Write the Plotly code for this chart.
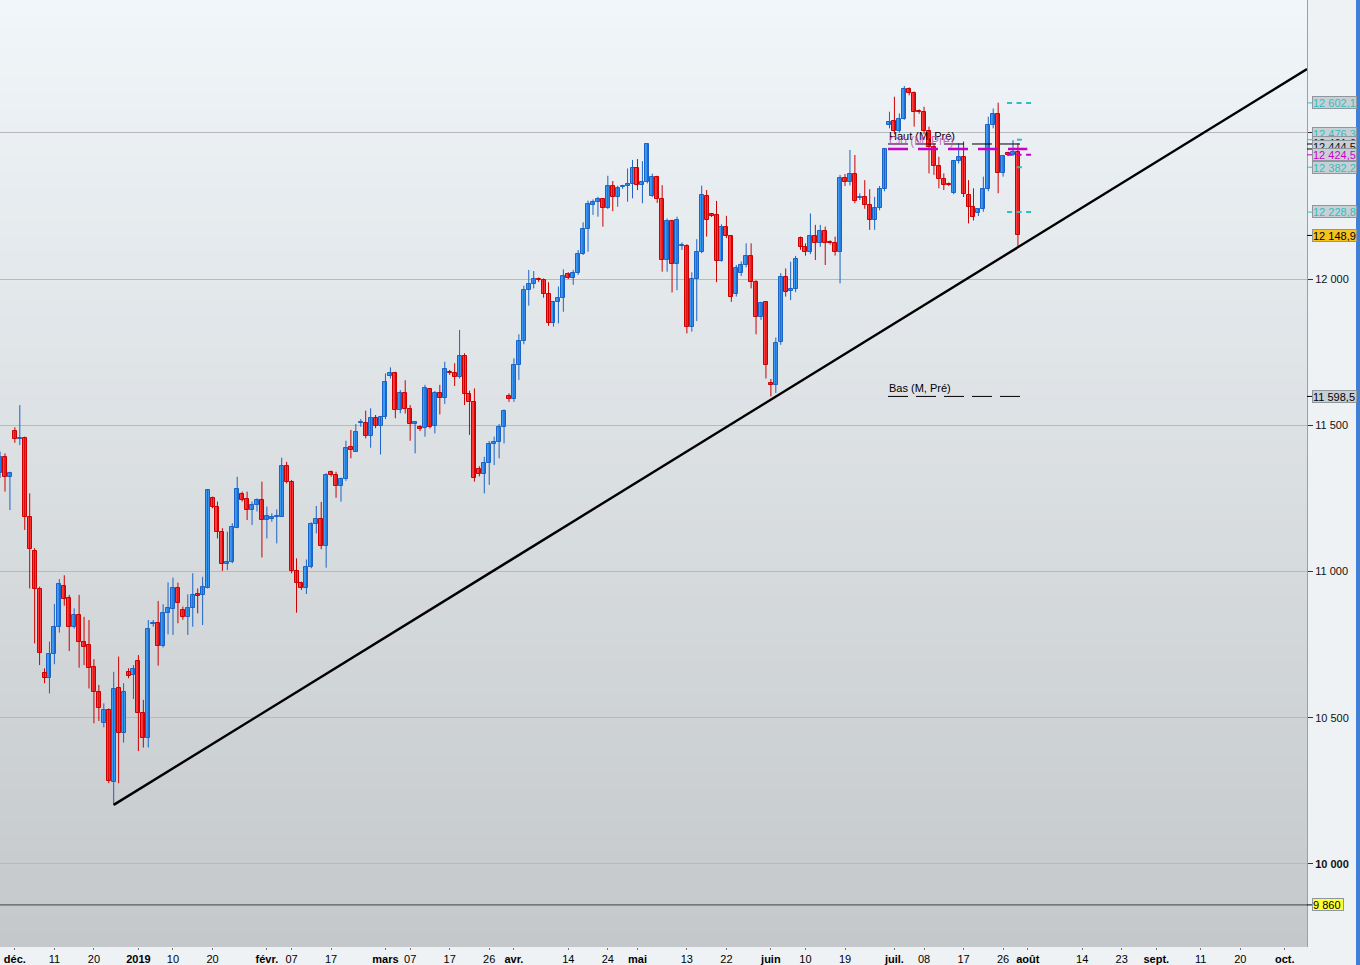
import plotly.graph_objects as go
import pandas as pd

# ---------------- data ----------------
opens = [11336, 11393, 11324, 11480, 11452, 11455, 11187, 11071, 10939, 10654,
         10637, 10717, 10809, 10951, 10909, 10809, 10851, 10760, 10749, 10675,
         10587, 10483, 10526, 10279, 10600, 10447, 10657, 10646, 10694, 10515,
         10430, 10819, 10825, 10746, 10857, 10871, 10942, 10868, 10845, 10874,
         10923, 10920, 10945, 11250, 11222, 11136, 11024, 11031, 11150, 11264,
         11247, 11210, 11227, 11244, 11176, 11179, 11187, 11187, 11361, 11307,
         11000, 10962, 10942, 11014, 11162, 11178, 11088, 11339, 11330, 11293,
         11315, 11427, 11410, 11506, 11509, 11464, 11524, 11498, 11527, 11668,
         11677, 11552, 11609, 11554, 11503, 11495, 11489, 11624, 11498, 11609,
         11594, 11683, 11677, 11664, 11737, 11607, 11578, 11352, 11335, 11372,
         11435, 11444, 11493, 11600, 11589, 11706, 11788, 11962, 11982, 12000,
         11995, 11948, 11848, 11920, 11936, 12016, 12004, 12019, 12084, 12170,
         12253, 12264, 12272, 12242, 12318, 12279, 12313, 12318, 12324, 12378,
         12321, 12330, 12285, 12350, 12272, 12065, 12198, 12050, 12113, 12113,
         11837, 12000, 12091, 12285, 12221, 12219, 12061, 12179, 12147, 11948,
         12019, 12048, 12079, 11989, 11871, 11920, 11646, 11637, 11785, 12008,
         11959, 11965, 12139, 12110, 12093, 12147, 12122, 12165, 12128, 12124,
         12093, 12344, 12333, 12358, 12276, 12281, 12253, 12202, 12242, 12307,
         12527, 12540, 12507, 12547, 12649, 12635, 12574, 12570, 12506, 12450,
         12386, 12341, 12325, 12295, 12403, 12418, 12287, 12245, 12224, 12238,
         12307, 12527, 12563, 12361, 12430, 12425, 12435]
highs = [11410, 11404, 11341, 11493, 11569, 11461, 11267, 11080, 10948, 10669,
         10760, 10889, 10974, 10987, 10920, 10874, 10920, 10845, 10834, 10700,
         10612, 10549, 10532, 10657, 10709, 10618, 10669, 10680, 10714, 10561,
         10834, 10834, 10899, 10888, 10963, 10979, 10962, 10880, 10922, 10994,
         10942, 10982, 11282, 11256, 11239, 11148, 11136, 11165, 11324, 11273,
         11273, 11239, 11250, 11307, 11222, 11199, 11212, 11389, 11375, 11313,
         11045, 10965, 11041, 11168, 11224, 11238, 11336, 11345, 11341, 11321,
         11447, 11484, 11504, 11521, 11550, 11558, 11535, 11532, 11677, 11698,
         11683, 11620, 11654, 11569, 11514, 11500, 11638, 11626, 11617, 11638,
         11717, 11689, 11712, 11826, 11746, 11618, 11626, 11360, 11392, 11446,
         11461, 11504, 11554, 11609, 11729, 11811, 11977, 12031, 12027, 12005,
         12002, 11989, 11925, 11974, 12033, 12023, 12031, 12099, 12194, 12268,
         12272, 12281, 12273, 12353, 12335, 12319, 12322, 12378, 12407, 12410,
         12403, 12464, 12360, 12353, 12321, 12207, 12202, 12213, 12125, 12119,
         12023, 12136, 12319, 12304, 12226, 12267, 12187, 12216, 12150, 12048,
         12060, 12122, 12122, 11996, 11922, 11922, 11658, 11800, 12020, 12036,
         12059, 12079, 12145, 12122, 12224, 12185, 12185, 12179, 12132, 12145,
         12356, 12359, 12441, 12424, 12293, 12338, 12307, 12281, 12318, 12447,
         12572, 12623, 12566, 12660, 12655, 12641, 12580, 12589, 12521, 12464,
         12418, 12361, 12330, 12407, 12464, 12470, 12338, 12310, 12240, 12350,
         12555, 12583, 12603, 12424, 12435, 12475, 12464]
lows = [11320, 11273, 11210, 11440, 11432, 11142, 10942, 10754, 10680, 10618,
        10583, 10683, 10791, 10883, 10728, 10805, 10671, 10680, 10600, 10481,
        10489, 10467, 10276, 10201, 10276, 10415, 10635, 10564, 10386, 10398,
        10398, 10811, 10678, 10740, 10785, 10783, 10823, 10835, 10783, 10811,
        10857, 10817, 10942, 11216, 11113, 11002, 11005, 11028, 11148, 11239,
        11176, 11159, 11205, 11048, 11113, 11170, 11096, 11187, 11301, 10994,
        10859, 10937, 10923, 11011, 11130, 11076, 11013, 11324, 11252, 11239,
        11310, 11387, 11410, 11495, 11455, 11423, 11490, 11400, 11521, 11660,
        11524, 11541, 11540, 11447, 11404, 11480, 11461, 11489, 11472, 11537,
        11573, 11672, 11634, 11660, 11569, 11467, 11307, 11325, 11267, 11296,
        11364, 11387, 11438, 11580, 11580, 11655, 11777, 11909, 11968, 11990,
        11936, 11840, 11837, 11848, 11888, 12000, 11980, 12014, 12082, 12093,
        12219, 12213, 12179, 12239, 12232, 12247, 12308, 12264, 12276, 12304,
        12259, 12327, 12280, 12260, 12025, 12025, 11954, 11962, 12099, 11814,
        11820, 11856, 12088, 12145, 12212, 11989, 12059, 12140, 11922, 11940,
        12010, 12040, 11968, 11811, 11860, 11660, 11598.5, 11610, 11775, 11940,
        11928, 11955, 12100, 12080, 12085, 12065, 12110, 12048, 12118, 12080,
        11985, 12318, 12320, 12259, 12270, 12240, 12168, 12168, 12235, 12300,
        12515, 12495, 12500, 12544, 12628, 12521, 12565, 12495, 12361, 12356,
        12310, 12304, 12318, 12290, 12395, 12280, 12190, 12200, 12215, 12230,
        12300, 12515, 12293, 12350, 12420, 12420, 12111]
closes = [11393, 11324, 11336, 11452, 11455, 11187, 11077, 10939, 10720, 10637,
          10717, 10809, 10956, 10905, 10811, 10851, 10760, 10743, 10671, 10587,
          10534, 10526, 10284, 10598, 10447, 10589, 10644, 10666, 10515, 10430,
          10802, 10825, 10746, 10857, 10874, 10942, 10891, 10845, 10874, 10920,
          10917, 10948, 11279, 11222, 11136, 11024, 11031, 11151, 11281, 11244,
          11210, 11227, 11244, 11176, 11191, 11187, 11190, 11361, 11307, 11000,
          10959, 10942, 11014, 11162, 11178, 11088, 11330, 11330, 11293, 11315,
          11423, 11415, 11478, 11510, 11464, 11524, 11498, 11527, 11647, 11677,
          11552, 11609, 11554, 11503, 11510, 11486, 11626, 11495, 11609, 11594,
          11691, 11677, 11664, 11737, 11607, 11578, 11318, 11333, 11372, 11435,
          11444, 11493, 11550, 11589, 11706, 11788, 11962, 11982, 12000, 11996,
          11948, 11848, 11920, 11936, 12011, 12004, 12019, 12084, 12170, 12255,
          12262, 12272, 12242, 12318, 12279, 12310, 12318, 12324, 12378, 12321,
          12330, 12460, 12350, 12272, 12065, 12198, 12050, 12202, 12117, 11837,
          12000, 12091, 12287, 12202, 12216, 12061, 12179, 12147, 11940, 12036,
          12048, 12079, 11989, 11871, 11917, 11706, 11637, 11780, 12008, 11957,
          11965, 12067, 12110, 12093, 12147, 12122, 12165, 12122, 12122, 12093,
          12344, 12333, 12358, 12268, 12281, 12253, 12202, 12242, 12307, 12443,
          12538, 12507, 12547, 12649, 12635, 12570, 12570, 12506, 12450, 12386,
          12341, 12321, 12321, 12403, 12418, 12289, 12245, 12213, 12238, 12307,
          12527, 12563, 12361, 12421, 12425, 12435, 12148.9]

# session calendar (Sunday..Friday sessions)
first_session = "2018-11-28"
calendar_end = "2019-10-06"
holidays = ["2018-12-25", "2019-01-01", "2019-04-19"]

tick_dates = ["2018-12-02", "2018-12-11", "2018-12-20", "2019-01-02", "2019-01-10",
              "2019-01-20", "2019-02-01", "2019-02-07", "2019-02-17", "2019-03-01",
              "2019-03-07", "2019-03-17", "2019-03-26", "2019-04-01", "2019-04-14",
              "2019-04-24", "2019-05-01", "2019-05-13", "2019-05-22", "2019-06-02",
              "2019-06-10", "2019-06-19", "2019-07-01", "2019-07-08", "2019-07-17",
              "2019-07-26", "2019-08-01", "2019-08-14", "2019-08-23", "2019-09-01",
              "2019-09-11", "2019-09-20", "2019-10-01"]
tick_labels = ["<b>déc.</b>", "11", "20", "<b>2019</b>", "10", "20", "<b>févr.</b>", "07",
               "17", "<b>mars</b>", "07", "17", "26", "<b>avr.</b>", "14", "24",
               "<b>mai</b>", "13", "22", "<b>juin</b>", "10", "19", "<b>juil.</b>", "08",
               "17", "26", "<b>août</b>", "14", "23", "<b>sept.</b>", "11", "20",
               "<b>oct.</b>"]

y_ticks = [10000, 10500, 11000, 11500, 12000, 12500]
y_tick_labels = ["<b>10 000</b>", "10 500", "11 000", "11 500", "12 000", ""]

# reference levels
prev_month_high = 12461.6
prev_month_close = 12444.5
prev_month_low = 11598.5
pivots_week = [12602.1, 12228.8]
pivots_day = [12476.3, 12382.2]
avg_level = 12424.5
ref_level = 9860
trend_anchor_date = "2018-12-26"
trend_anchor_price = 10202
trend_edge_price = 12718

# ---------------- helpers ----------------
days = pd.date_range(first_session, calendar_end, freq="D")
sessions = [d.strftime("%Y-%m-%d") for d in days
            if d.weekday() != 5 and d.strftime("%Y-%m-%d") not in holidays]
pos = {d: i for i, d in enumerate(sessions)}
n = len(opens)
xs = list(range(n))
last = n - 1

X_MIN, X_MAX = -0.01, 264.5
Y_MIN, Y_MAX = 9716.1, 12953.9
PLOT_W, PLOT_H = 1307, 947


def fr(v, dec=1):
    s = f"{v:,.{dec}f}"
    return s.replace(",", " ").replace(".", ",")


UP_FILL, UP_LINE = "#3a9bf4", "#1b63c6"
DN_FILL, DN_LINE = "#ff3b3b", "#cc0000"
CYAN, MAGENTA = "#2fbfbf", "#c800c8"

fig = go.Figure()

# wicks
for up in (True, False):
    wx, wy = [], []
    for i in xs:
        if (closes[i] >= opens[i]) == up:
            wx += [i, i, None]
            wy += [lows[i], highs[i], None]
    fig.add_trace(go.Scatter(x=wx, y=wy, mode="lines",
                             line=dict(color=UP_LINE if up else DN_LINE, width=1),
                             hoverinfo="skip", showlegend=False))

# bodies
for up in (True, False):
    idx = [i for i in xs if (closes[i] >= opens[i]) == up]
    fig.add_trace(go.Bar(
        x=idx,
        y=[max(abs(closes[i] - opens[i]), 1.5) for i in idx],
        base=[min(opens[i], closes[i]) for i in idx],
        width=0.8,
        marker=dict(color=UP_FILL if up else DN_FILL,
                    line=dict(color=UP_LINE if up else DN_LINE, width=1)),
        hoverinfo="skip", showlegend=False))

# trend line
t0 = pos[trend_anchor_date]
fig.add_trace(go.Scatter(x=[t0, X_MAX], y=[trend_anchor_price, trend_edge_price],
                         mode="lines", line=dict(color="#000000", width=2.4),
                         hoverinfo="skip", showlegend=False))

# previous-month levels
m_start = pos["2019-06-30"] - 0.3
fig.add_trace(go.Scatter(x=[m_start, last + 0.45], y=[prev_month_high] * 2, mode="lines",
                         line=dict(color="#000000", width=1, dash="20px,8px"),
                         hoverinfo="skip", showlegend=False))
fig.add_trace(go.Scatter(x=[m_start, last + 1.9], y=[prev_month_close] * 2, mode="lines",
                         line=dict(color=MAGENTA, width=2.5, dash="20px,10px"),
                         hoverinfo="skip", showlegend=False))
fig.add_trace(go.Scatter(x=[m_start, last + 0.45], y=[prev_month_low] * 2, mode="lines",
                         line=dict(color="#000000", width=1, dash="20px,8px"),
                         hoverinfo="skip", showlegend=False))

# weekly pivots
w0 = pos["2019-07-28"] - 0.2
w1 = pos["2019-08-02"] - 0.2
for lv in pivots_week:
    fig.add_trace(go.Scatter(x=[w0, w1], y=[lv, lv], mode="lines",
                             line=dict(color=CYAN, width=2, dash="5px,4.5px"),
                             hoverinfo="skip", showlegend=False))
fig.add_trace(go.Scatter(x=[w0, w1], y=[avg_level, avg_level], mode="lines",
                         line=dict(color=MAGENTA, width=2, dash="5px,4.5px"),
                         hoverinfo="skip", showlegend=False))
for lv in pivots_day:
    fig.add_trace(go.Scatter(x=[last - 0.2, last + 0.8], y=[lv, lv], mode="lines",
                             line=dict(color=CYAN, width=2),
                             hoverinfo="skip", showlegend=False))

shapes = []
# background gradient
top, bot = (241, 246, 250), (196, 200, 202)
N = 60
for b in range(N):
    f = (b + 0.5) / N
    col = tuple(round(top[c] + (bot[c] - top[c]) * f) for c in range(3))
    shapes.append(dict(type="rect", xref="x domain", yref="y domain",
                       x0=0, x1=1, y0=1 - (b + 1) / N, y1=1 - b / N + 0.001,
                       fillcolor="rgb(%d,%d,%d)" % col, line=dict(width=0), layer="below"))
# reference level line
shapes.append(dict(type="line", xref="paper", yref="y", x0=0, x1=1, y0=ref_level, y1=ref_level,
                   line=dict(color="#404040", width=1)))
# window edge strip
shapes.append(dict(type="rect", xref="paper", yref="paper", x0=1356 / PLOT_W, x1=1361 / PLOT_W,
                   y0=-20 / PLOT_H, y1=1.01, fillcolor="#3f7fd6", line=dict(width=0)))

annotations = []
# text labels of previous-month levels
annotations.append(dict(x=m_start, y=prev_month_high, xref="x", yref="y", text="Haut (M, Pré)",
                        showarrow=False, xanchor="left", yanchor="bottom", yshift=0, xshift=-1,
                        font=dict(size=11, color="#000000")))
annotations.append(dict(x=m_start, y=prev_month_close, xref="x", yref="y", text="Clô (M, Pré)",
                        showarrow=False, xanchor="left", yanchor="bottom", yshift=-1, xshift=-1,
                        font=dict(size=12, color="rgba(192,80,192,0.85)")))
annotations.append(dict(x=m_start, y=prev_month_low, xref="x", yref="y", text="Bas (M, Pré)",
                        showarrow=False, xanchor="left", yanchor="bottom", yshift=0, xshift=-1,
                        font=dict(size=11, color="#000000")))

# right-hand price boxes (later ones drawn on top)
GREY_BOX, GREY_EDGE = "#c8d0d5", "#8d979d"
boxes = [
    (pivots_day[0], fr(pivots_day[0]), CYAN, GREY_BOX, 6.5),
    (prev_month_high, fr(prev_month_high), "#111111", GREY_BOX, 1),
    (prev_month_close, fr(prev_month_close), "#111111", GREY_BOX, 2),
    (avg_level, fr(avg_level), MAGENTA, GREY_BOX, 0),
    (pivots_week[0], fr(pivots_week[0]), CYAN, GREY_BOX, 0),
    (pivots_day[1], fr(pivots_day[1]), CYAN, GREY_BOX, 0),
    (pivots_week[1], fr(pivots_week[1]), CYAN, GREY_BOX, 1),
    (closes[last], fr(closes[last]), "#000000", "#f6c21c", 0),
    (prev_month_low, fr(prev_month_low), "#000000", GREY_BOX, 0),
    (ref_level, fr(ref_level, 0), "#000000", "#ffff33", 0),
]
for price, txt, tc, bg, ysh in boxes:
    w = 43 if price > 10000 else 30
    annotations.append(dict(x=1, y=price, xref="paper", yref="y", text=txt, showarrow=False,
                            xanchor="left", yanchor="middle", xshift=5, yshift=ysh,
                            width=w, height=11, align="left", bgcolor=bg,
                            bordercolor=GREY_EDGE, borderwidth=1, borderpad=0,
                            font=dict(size=11, color=tc)))
    shapes.append(dict(type="line", xref="paper", yref="y", x0=1, x1=1 + 5 / PLOT_W,
                       y0=price, y1=price,
                       line=dict(color=tc if tc not in ("#111111", "#000000") else "#000000",
                                 width=1)))

fig.update_layout(
    width=1360, height=965,
    margin=dict(l=0, r=53, t=0, b=18, autoexpand=False),
    paper_bgcolor="#eff2f4", plot_bgcolor="rgba(0,0,0,0)",
    showlegend=False, barmode="overlay", bargap=0,
    font=dict(family="Arial, Liberation Sans, sans-serif", size=11, color="#111111"),
    shapes=shapes, annotations=annotations,
)
fig.update_xaxes(range=[X_MIN, X_MAX], tickvals=[pos[d] for d in tick_dates],
                 ticktext=tick_labels, ticks="outside", ticklen=2, tickcolor="#777777",
                 showgrid=False, zeroline=False, showline=False, automargin=False,
                 tickfont=dict(size=11, color="#000000"))
fig.update_yaxes(side="right", range=[Y_MIN, Y_MAX], tickvals=y_ticks, ticktext=y_tick_labels,
                 ticks="outside", ticklen=5, tickcolor="#333333",
                 showgrid=True, gridcolor="#b6babd", gridwidth=1, automargin=False,
                 showline=True, linecolor="#9aa0a4", linewidth=1, zeroline=False,
                 tickfont=dict(size=11, color="#111111"))

fig.write_html("out.html", config={"displayModeBar": False},
               post_script="document.body.style.margin='0';document.body.style.overflow='hidden';")
